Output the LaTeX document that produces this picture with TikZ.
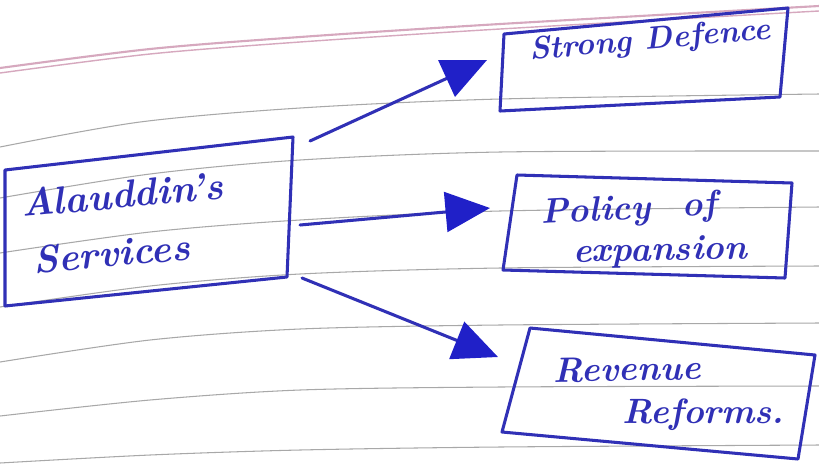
\documentclass[tikz,border=0pt]{standalone}
\usetikzlibrary{arrows.meta}
\definecolor{ink}{RGB}{48,48,182}
\definecolor{headink}{RGB}{32,32,200}
\definecolor{rulegrey}{RGB}{168,168,168}
\definecolor{marginpink}{RGB}{214,168,190}
\begin{document}
\begin{tikzpicture}[x=0.03cm,y=-0.03cm,
  box/.style={draw=ink, line width=2.6pt, line join=round, line cap=round},
  hand/.style={text=ink, font=\bfseries\itshape\fontsize{30}{34}\selectfont, inner sep=0pt, anchor=base west},
  bighand/.style={hand, font=\bfseries\itshape\fontsize{33}{37}\selectfont},
  smallhand/.style={hand, font=\bfseries\itshape\fontsize{27}{31}\selectfont},
  ruleline/.style={draw=rulegrey, line width=0.9pt},
  pinkline/.style={draw=marginpink, line width=1.8pt},
  arr/.style={draw=ink, line width=2.6pt, line cap=round,
    -{Triangle[length=38pt,width=34pt,fill=headink,color=headink]}}]
% paper
\fill[white] (0,0) rectangle (819,466);
\useasboundingbox (0,0) rectangle (819,466);
% margin (pink) lines
\draw[pinkline] plot[smooth] coordinates {(0,68) (150,49) (300,37) (500,24) (819,6)};
\draw[pinkline, line width=1.2pt] plot[smooth] coordinates {(0,73) (150,54) (300,42) (500,29) (819,11)};
% ruled lines
\draw[ruleline] plot[smooth] coordinates {(0,147) (140,122) (300,108) (500,99) (819,94)};
\draw[ruleline] plot[smooth] coordinates {(0,198) (150,174) (300,160) (500,152) (819,151)};
\draw[ruleline] plot[smooth] coordinates {(0,253) (150,232) (300,220) (500,211) (819,207)};
\draw[ruleline] plot[smooth] coordinates {(0,307) (150,286) (300,274) (500,268) (819,266)};
\draw[ruleline] plot[smooth] coordinates {(0,362) (150,340) (300,329) (500,325) (819,323)};
\draw[ruleline] plot[smooth] coordinates {(0,416) (150,400) (300,390) (500,387) (819,386)};
\draw[ruleline] plot[smooth] coordinates {(0,463) (150,455) (300,450) (500,447) (819,445)};
% box corners
\coordinate (m1) at (5,170);   \coordinate (m2) at (293,137);
\coordinate (m3) at (287,277); \coordinate (m4) at (5,306);
\coordinate (s1) at (504,34);  \coordinate (s2) at (788,8);
\coordinate (s3) at (780,97);  \coordinate (s4) at (500,111);
\coordinate (p1) at (517,175); \coordinate (p2) at (792,183);
\coordinate (p3) at (785,278); \coordinate (p4) at (503,270);
\coordinate (r1) at (530,328); \coordinate (r2) at (815,355);
\coordinate (r3) at (798,459); \coordinate (r4) at (502,432);
% boxes
\draw[box] (m1) -- (m2) -- (m3) -- (m4) -- cycle;
\draw[box] (s1) -- (s2) -- (s3) -- (s4) -- cycle;
\draw[box] (p1) -- (p2) -- (p3) -- (p4) -- cycle;
\draw[box] (r1) -- (r2) -- (r3) -- (r4) -- cycle;
% texts
\node[bighand, rotate=5, align=left] (mainlabel) at (27,274)
  {Alauddin's\\[12pt]\hspace*{6pt}Services};
\node[smallhand, rotate=5] (strong) at (530,60) {Strong Defence};
\node[hand, rotate=3] (policy) at (541,224) {Policy\hspace{0.9em}of};
\node[hand, rotate=1] (expansion) at (573,262) {expansion};
\node[hand, rotate=1] (revenue) at (553,382) {Revenue};
\node[hand] (reforms) at (622,423) {Reforms.};
% arrow ends
\coordinate (t1) at (310,141); \coordinate (h1) at (487,60);
\coordinate (t2) at (300,225); \coordinate (h2) at (490,208);
\coordinate (t3) at (302,278); \coordinate (h3) at (498,357);
\draw[arr] (t1) -- (h1);
\draw[arr] (t2) -- (h2);
\draw[arr] (t3) -- (h3);
\end{tikzpicture}
\end{document}
